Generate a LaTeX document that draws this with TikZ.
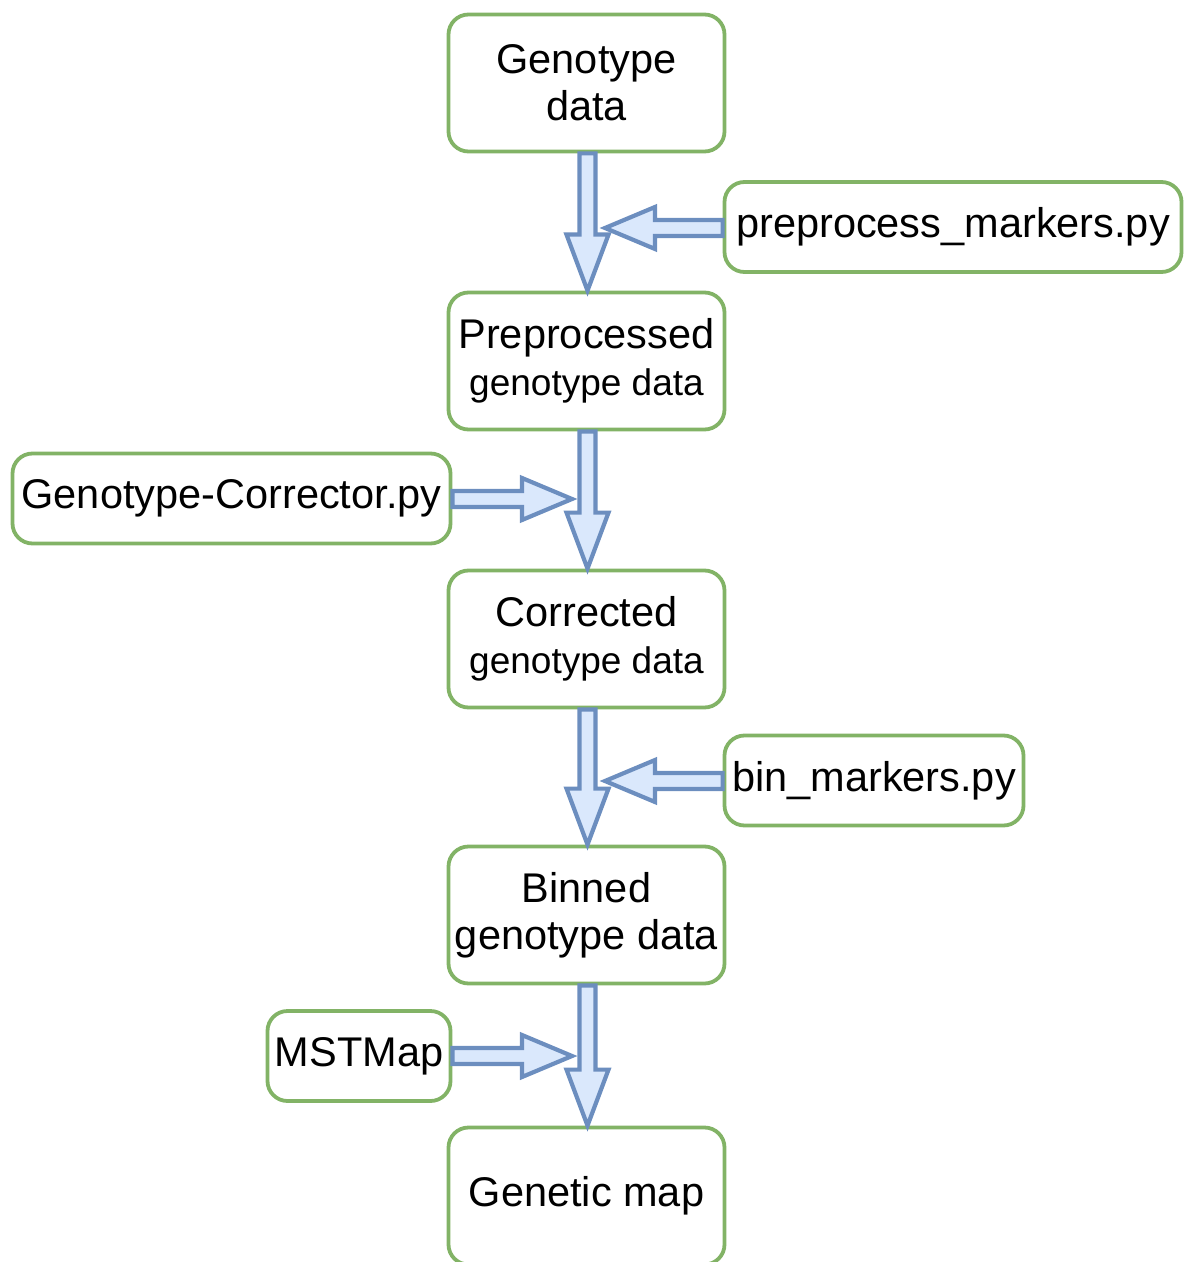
\documentclass[tikz,border=0pt]{standalone}
\usepackage{fontspec}
\setmainfont{Liberation Sans}
\usetikzlibrary{calc}

\definecolor{boxgreen}{HTML}{82B366}
\definecolor{arrowblue}{HTML}{6C8EBF}
\definecolor{arrowfill}{HTML}{DAE8FC}

\newcommand{\smallline}{\fontsize{18.5}{21}\selectfont}

\tikzset{
    databox/.style={draw=boxgreen, line width=1.9pt, rounded corners=10pt,
        minimum width=138pt, minimum height=68.5pt, inner sep=0pt,
        align=center, font=\fontsize{20.75}{23.5}\selectfont},
    scriptbox/.style={databox, minimum height=45pt},
    fat/.style={draw=arrowblue, fill=arrowfill, line width=2.1pt, line join=miter}
}

\begin{document}
\begin{tikzpicture}[x=0.5pt, y=-0.5pt]
        \useasboundingbox (0,0) rectangle (1184,1262);

        % Datos
        \node[databox] (geno) at (586.5,83) {Genotype\\data};
        \node[databox] (prep) at (586.5,361) {Preprocessed\\{\smallline genotype data}};
        \node[databox] (corr) at (586.5,639) {Corrected\\{\smallline genotype data}};
        \node[databox] (binn) at (586.5,915) {Binned\\genotype data};
        \node[databox] (gmap) at (586.5,1196) {Genetic map};

        % Programas
        \node[scriptbox, minimum width=228.5pt] (ppm) at (953,227) {preprocess\_markers.py};
        \node[scriptbox, minimum width=219pt] (gcp) at (231.5,498.5) {Genotype-Corrector.py};
        \node[scriptbox, minimum width=149.5pt] (bmp) at (874,780.5) {bin\_markers.py};
        \node[scriptbox, minimum width=91.5pt] (mst) at (359,1056) {MSTMap};

        % Puntas de las flechas laterales
        \coordinate (tip1) at (605,228);
        \coordinate (tip2) at (572,499);
        \coordinate (tip3) at (605,781);
        \coordinate (tip4) at (572,1056);

        % Flechas verticales
        \foreach \a/\b in {geno/prep, prep/corr, corr/binn, binn/gmap}
            \draw[fat] let \p1=(\a.south), \p2=(\b.north) in
                (\x1-3.5pt,\y1) -- (\x1+4.5pt,\y1) -- (\x1+4.5pt,\y2+28pt) -- (\x1+11pt,\y2+28pt)
                -- (\x1+0.5pt,\y2) -- (\x1-10pt,\y2+28pt) -- (\x1-3.5pt,\y2+28pt) -- cycle;

        % Flechas laterales
        \foreach \s/\t/\d in {ppm.west/tip1/1, gcp.east/tip2/-1, bmp.west/tip3/1, mst.east/tip4/-1}
            \draw[fat] let \p1=(\s), \p2=(\t) in
                (\x1,\y2+4pt) -- (\x2+\d*25pt,\y2+4pt) -- (\x2+\d*25pt,\y2+10.5pt) -- (\x2,\y2)
                -- (\x2+\d*25pt,\y2-10.5pt) -- (\x2+\d*25pt,\y2-4pt) -- (\x1,\y2-4pt) -- cycle;
\end{tikzpicture}
\end{document}
